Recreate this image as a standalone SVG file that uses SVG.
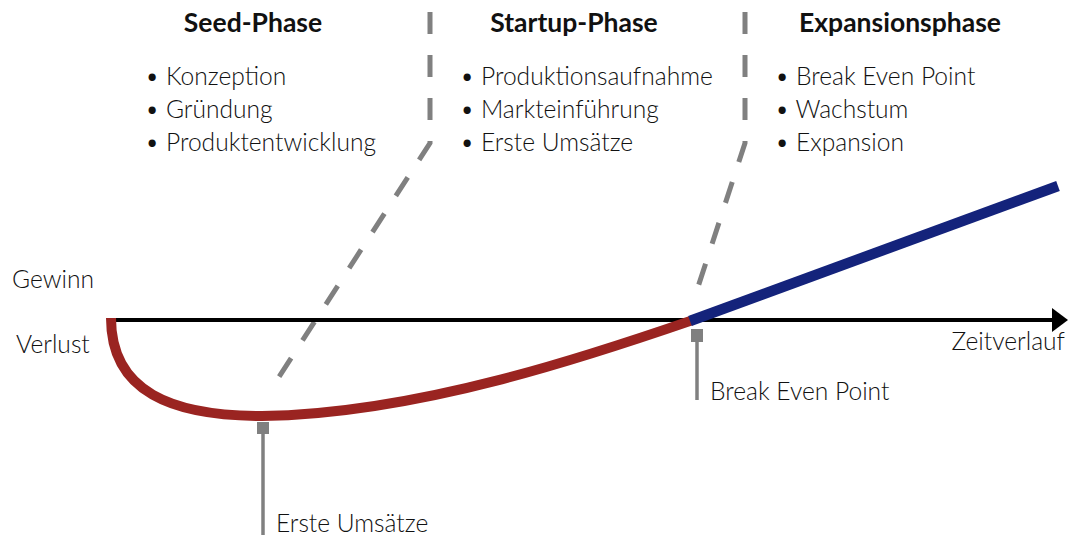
<svg xmlns="http://www.w3.org/2000/svg" width="1070" height="535" viewBox="0 0 1070 535">
<style>
.h{font-family:Lato,"Open Sans","Liberation Sans",sans-serif;font-weight:bold;font-size:26.5px;fill:#111;text-anchor:middle}
.t{font-family:Lato,"Open Sans","Liberation Sans",sans-serif;font-weight:300;font-size:24.6px;fill:#111}
.dash{fill:none;stroke:#808080;stroke-width:5;stroke-dasharray:22 21}
.tick{stroke:#808080;stroke-width:3.5}
.mk{fill:#808080}
</style>
<rect width="1070" height="535" fill="#fff"/>
<g id="dividers">
<path class="dash" d="M430,12 V143 L275,383"/>
<path class="dash" d="M745,12 V143 L697,290"/>
</g>
<g id="seed-phase">
<text class="h" x="253" y="32">Seed-Phase</text>
<text class="t" x="145" y="85">• Konzeption</text>
<text class="t" x="145" y="118">• Gründung</text>
<text class="t" x="145" y="151">• Produktentwicklung</text>
</g>
<g id="startup-phase">
<text class="h" x="574" y="32">Startup-Phase</text>
<text class="t" x="460" y="85">• Produktionsaufnahme</text>
<text class="t" x="460" y="118">• Markteinführung</text>
<text class="t" x="460" y="151">• Erste Umsätze</text>
</g>
<g id="expansionsphase">
<text class="h" x="900" y="32">Expansionsphase</text>
<text class="t" x="775" y="85">• Break Even Point</text>
<text class="t" x="775" y="118">• Wachstum</text>
<text class="t" x="775" y="151">• Expansion</text>
</g>
<g id="labels">
<text class="t" x="12" y="288">Gewinn</text>
<text class="t" x="16" y="353">Verlust</text>
<text class="t" x="1065" y="350" text-anchor="end">Zeitverlauf</text>
</g>
<g id="axis">
<line x1="109" y1="320" x2="1056" y2="320" stroke="#000" stroke-width="4"/>
<polygon points="1052,308 1068,320 1052,332" fill="#000"/>
</g>
<g id="curves">
<path d="M111,318 C111,392 172,416 262,416 C420,414 600,352 693,320" fill="none" stroke="#9a2421" stroke-width="10"/>
<line x1="690" y1="321" x2="1058" y2="186" stroke="#14237b" stroke-width="10.5"/>
</g>
<g id="erste-umsaetze">
<line class="tick" x1="263" y1="432" x2="263" y2="535"/>
<rect class="mk" x="257" y="422" width="12" height="12"/>
<text class="t" x="276" y="532">Erste Umsätze</text>
</g>
<g id="break-even">
<line class="tick" x1="697" y1="340" x2="697" y2="400"/>
<rect class="mk" x="691" y="329" width="12" height="13"/>
<text class="t" x="710" y="400">Break Even Point</text>
</g>
</svg>
